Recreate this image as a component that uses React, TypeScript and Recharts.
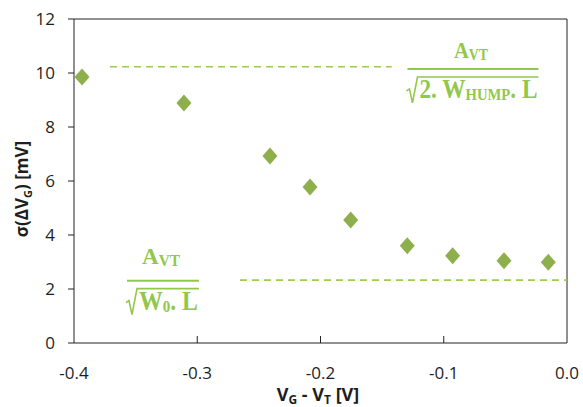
import React from 'react';
import { ScatterChart, Scatter, XAxis, YAxis, ReferenceLine, ReferenceDot, Label } from 'recharts';

const vgMinusVt = [-0.3935, -0.3108, -0.241, -0.2085, -0.1755, -0.1296, -0.0928, -0.0511, -0.0152];
const sigmaMv = [9.85, 8.89, 6.93, 5.78, 4.56, 3.6, 3.23, 3.05, 2.99];
const xTicks = [-0.4, -0.3, -0.2, -0.1, 0.0];
const yTicks = [0, 2, 4, 6, 8, 10, 12];
const humpLevel = 10.23;
const humpRange = [-0.3708, -0.1422];
const baseLevel = 2.33;
const baseRange = [-0.2653, 0.0];
const formulaAnchors = [
  { x: -0.0763, y: 10.15 },
  { x: -0.3278, y: 2.31 },
];

const data = vgMinusVt.map((x, i) => ({ x, y: sigmaMv[i] }));

const MARK = '#8db04d';
const DASH = '#9acb55';
const FORMULA = '#92c84a';
const TXT = '#1e1e1e';
const SANS = '"Open Sans", "Liberation Sans", sans-serif';
const SERIF = '"Liberation Serif", "DejaVu Serif", serif';

const Diamond = (props: any) => {
  const { cx, cy } = props;
  if (cx == null || cy == null) return null;
  const w = 7.5, h = 8.5;
  return <polygon points={`${cx},${cy - h} ${cx + w},${cy} ${cx},${cy + h} ${cx - w},${cy}`} fill={MARK} />;
};

const XTick = (props: any) => {
  const { x, y, payload } = props;
  const axisY = y - 8;
  const v = payload.value;
  const showLine = v > -0.39 && v < -0.01;
  return (
    <g>
      {showLine && <line x1={x} x2={x} y1={axisY} y2={axisY - 7} stroke="#222" strokeWidth={1} />}
      <text x={x} y={axisY + 36} textAnchor="middle" fontFamily={SANS} fontSize={17} fill={TXT}>
        {v === 0 ? '0.0' : v.toFixed(1)}
      </text>
    </g>
  );
};

const YTick = (props: any) => {
  const { y, payload } = props;
  return (
    <text x={55} y={y} dy="0.36em" textAnchor="end" fontFamily={SANS} fontSize={17} fill={TXT}>
      {payload.value}
    </text>
  );
};

const Fraction = ({ cx, cy, width, numGap, numWidth, kind }: any) => {
  const left = cx - width / 2;
  const right = cx + width / 2;
  const rootPath = `M${left - 1},${cy + 22} L${left + 2},${cy + 20} L${left + 5},${cy + 34} L${left + 10},${cy + 8} L${right},${cy + 8}`;
  return (
    <g>
      <text x={cx - numWidth / 2 - 2} y={cy - numGap} fontFamily={SERIF} fontWeight="bold" fill={FORMULA} fontSize={24}
        textLength={numWidth} lengthAdjust="spacingAndGlyphs">
        A<tspan fontSize={16} dy={2}>VT</tspan>
      </text>
      <line x1={left} x2={right} y1={cy} y2={cy} stroke={FORMULA} strokeWidth={2} />
      <path d={rootPath} stroke={FORMULA} strokeWidth={1.6} fill="none" />
      {kind === 'hump' ? (
        <text x={left + 12} y={cy + 29} fontFamily={SERIF} fontWeight="bold" fill={FORMULA} fontSize={27}
          textLength={width - 13} lengthAdjust="spacingAndGlyphs">
          2. W<tspan fontSize={17} dy={2}>HUMP</tspan><tspan dy={-2}>. L</tspan>
        </text>
      ) : (
        <text x={left + 12} y={cy + 29} fontFamily={SERIF} fontWeight="bold" fill={FORMULA} fontSize={27}
          textLength={width - 13} lengthAdjust="spacingAndGlyphs">
          W<tspan fontSize={17} dy={2}>0</tspan><tspan dy={-2}>. L</tspan>
        </text>
      )}
    </g>
  );
};

export default function App() {
  return (
    <div style={{ position: 'absolute', left: 0, top: 0, background: '#fff' }}>
      <ScatterChart width={583} height={407} margin={{ top: 19, right: 16, bottom: 0, left: 0 }}>
        <XAxis
          type="number"
          dataKey="x"
          domain={[-0.4, 0]}
          ticks={xTicks}
          allowDataOverflow
          height={64}
          tickLine={false}
          tickSize={0}
          tickMargin={8}
          axisLine={{ stroke: '#222', strokeWidth: 1 }}
          tick={<XTick />}
          interval={0}
        >
          <Label
            content={() => (
              <text x={318} y={401} textAnchor="middle" fontFamily={SANS} fontWeight="bold" fontSize={18} fill={TXT}>
                V<tspan fontSize={12} dy={3}>G</tspan><tspan dy={-3}> - V</tspan><tspan fontSize={12} dy={3}>T</tspan><tspan dy={-3}> [V]</tspan>
              </text>
            )}
          />
        </XAxis>
        <YAxis
          type="number"
          dataKey="y"
          domain={[0, 12]}
          ticks={yTicks}
          width={74}
          tickSize={6}
          tickLine={{ stroke: '#222' }}
          axisLine={{ stroke: '#222', strokeWidth: 1 }}
          tick={<YTick />}
          interval={0}
        >
          <Label
            content={() => (
              <text x={0} y={0} transform="translate(28,189) rotate(-90)" textAnchor="middle" fontFamily={SANS} fontWeight="bold" fontSize={17} fill={TXT}>
                σ(ΔV<tspan fontSize={11} dy={4}>G</tspan><tspan dy={-4}>) [mV]</tspan>
              </text>
            )}
          />
        </YAxis>
        <ReferenceLine y={12} stroke="#222" strokeWidth={1} />
        <ReferenceLine x={0} stroke="#222" strokeWidth={1} />
        <ReferenceLine
          segment={[{ x: humpRange[0], y: humpLevel }, { x: humpRange[1], y: humpLevel }]}
          stroke={DASH}
          strokeWidth={1.6}
          strokeDasharray="7 5"
        />
        <ReferenceLine
          segment={[{ x: baseRange[0], y: baseLevel }, { x: baseRange[1], y: baseLevel }]}
          stroke={DASH}
          strokeWidth={1.6}
          strokeDasharray="7 5"
        />
        <ReferenceDot
          x={formulaAnchors[0].x}
          y={formulaAnchors[0].y}
          r={0}
          shape={(p: any) => <Fraction cx={p.cx} cy={p.cy} width={131} numGap={11} numWidth={34} kind="hump" />}
        />
        <ReferenceDot
          x={formulaAnchors[1].x}
          y={formulaAnchors[1].y}
          r={0}
          shape={(p: any) => <Fraction cx={p.cx} cy={p.cy} width={72} numGap={17} numWidth={38} kind="zero" />}
        />
        <Scatter data={data} shape={<Diamond />} isAnimationActive={false} />
      </ScatterChart>
    </div>
  );
}
